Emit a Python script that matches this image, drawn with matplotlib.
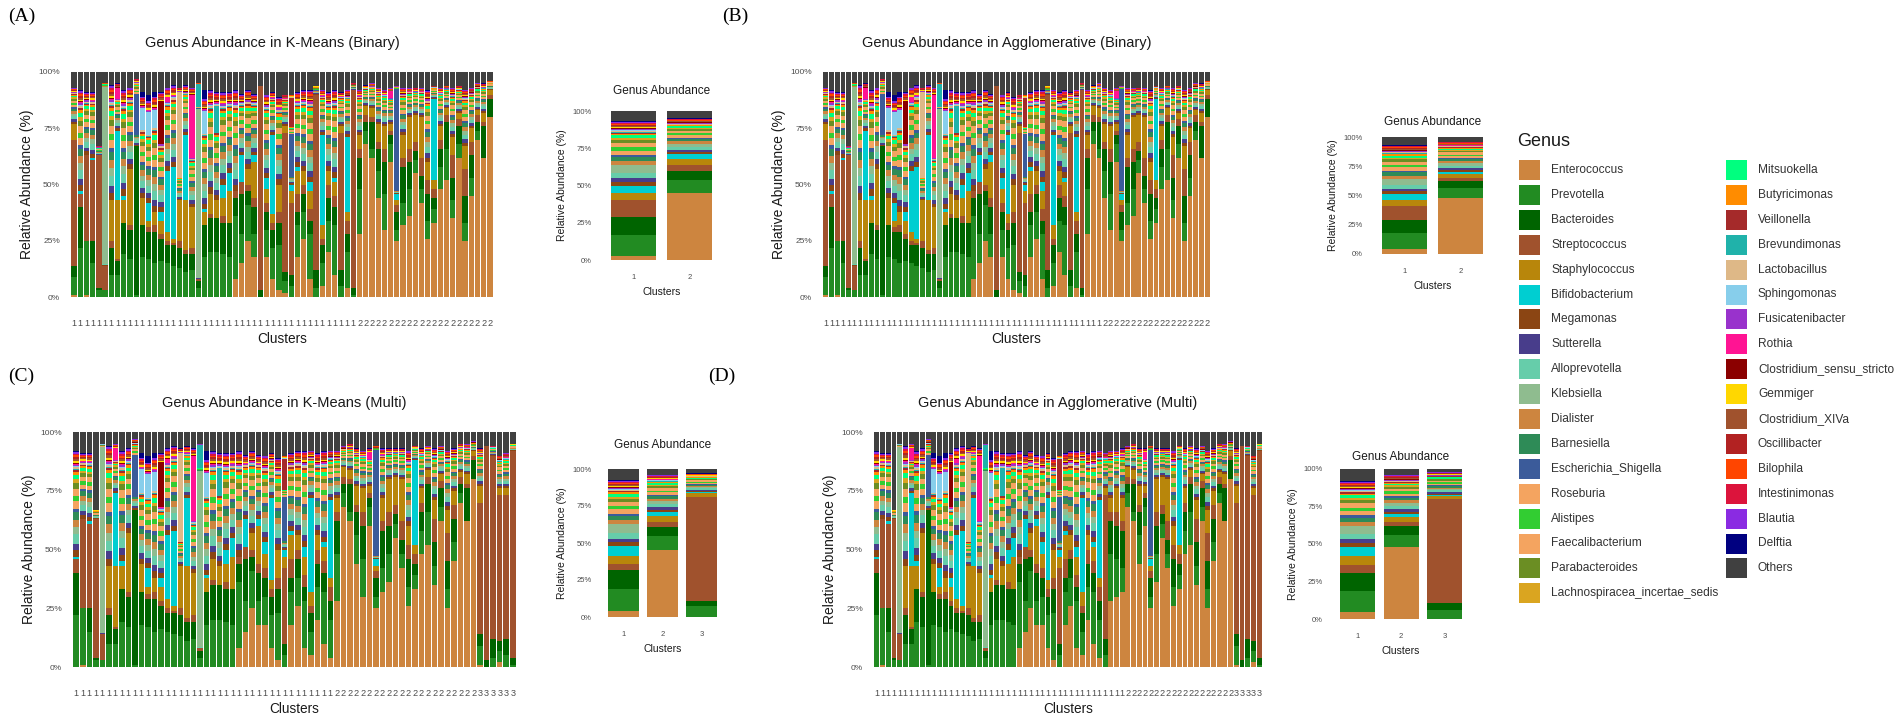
import matplotlib
matplotlib.use("Agg")
import matplotlib.pyplot as plt
from matplotlib.patches import Rectangle
import numpy as np

plt.rcParams['font.family'] = ['Liberation Sans', 'DejaVu Sans']

# genera in stacking / legend order (bottom -> top)
genera = ["Enterococcus", "Prevotella", "Bacteroides", "Streptococcus", "Staphylococcus",
          "Bifidobacterium", "Megamonas", "Sutterella", "Alloprevotella", "Klebsiella",
          "Dialister", "Barnesiella", "Escherichia_Shigella", "Roseburia", "Alistipes",
          "Faecalibacterium", "Parabacteroides", "Lachnospiracea_incertae_sedis",
          "Mitsuokella", "Butyricimonas", "Veillonella", "Brevundimonas", "Lactobacillus",
          "Sphingomonas", "Fusicatenibacter", "Rothia", "Clostridium_sensu_stricto",
          "Gemmiger", "Clostridium_XIVa", "Oscillibacter", "Bilophila", "Intestinimonas",
          "Blautia", "Delftia", "Others"]
genus_colors = ["#CD853F", "#228B22", "#006400", "#A0522D", "#B8860B",
                "#00CED1", "#8B4513", "#483D8B", "#66CDAA", "#8FBC8F",
                "#CD853F", "#2E8B57", "#3B5B9A", "#F4A460", "#32CD32",
                "#F4A460", "#6B8E23", "#DAA520",
                "#00FF7F", "#FF8C00", "#A52A2A", "#20B2AA", "#DEB887",
                "#87CEEB", "#9932CC", "#FF1493", "#8B0000",
                "#FFD700", "#A0522D", "#B22222", "#FF4500", "#DC143C",
                "#8A2BE2", "#000080", "#404040"]

# per-sample relative abundance (%) of the main genera, samples in K-Means (Binary) order
ent = [1, 0, 1, 0, 0, 0, 0, 0, 0, 0,
       0, 0, 0, 0, 0, 0, 0, 0, 0, 0,
       0, 0, 0, 0, 0, 0, 8, 15, 25, 18,
       0, 18, 8, 3, 2, 0, 18, 26, 8, 0,
       5, 20, 10, 0, 4, 0,
       28, 68, 62, 44, 30, 60, 25, 32, 36, 55,
       42, 26, 33, 48, 52, 35, 62, 25, 45, 70,
       62, 80]
prev = [8, 22, 24, 15, 3, 3, 10, 10, 19, 17,
        1, 18, 17, 15, 16, 15, 14, 13, 11, 12,
        4, 18, 20, 20, 19, 18, 28, 13, 16, 10,
        0, 12, 14, 20, 5, 5, 14, 12, 20, 4,
        10, 14, 22, 5, 16, 1,
        20, 6, 4, 12, 16, 8, 5, 10, 12, 6,
        6, 8, 6, 10, 14, 8, 6, 8, 8, 4,
        0, 0]
bact = [5, 18, 0, 10, 1, 0, 12, 6, 14, 13,
        66, 14, 12, 14, 10, 8, 9, 9, 8, 7,
        3, 14, 15, 15, 14, 15, 8, 18, 6, 12,
        3, 8, 8, 10, 4, 5, 6, 8, 6, 8,
        8, 10, 8, 7, 8, 3,
        14, 4, 12, 10, 14, 4, 8, 16, 12, 4,
        6, 12, 5, 8, 12, 10, 8, 12, 10, 4,
        14, 8]
strep = [56, 6, 38, 36, 59, 11, 3, 1, 0, 2,
         0, 0, 2, 3, 2, 2, 1, 3, 2, 3,
         1, 0, 2, 0, 3, 0, 3, 5, 3, 4,
         91, 4, 3, 5, 62, 32, 8, 4, 5, 78,
         3, 6, 5, 61, 6, 88,
         4, 3, 2, 3, 6, 2, 3, 4, 6, 4,
         8, 6, 4, 4, 3, 10, 3, 12, 6, 3,
         2, 2]
staph = [7, 0, 0, 0, 0, 0, 18, 26, 10, 25,
         0, 12, 3, 6, 6, 4, 2, 18, 22, 18,
         0, 6, 9, 8, 8, 14, 0, 0, 7, 16,
         0, 6, 4, 12, 3, 5, 10, 6, 8, 0,
         6, 6, 6, 3, 4, 0,
         6, 4, 4, 8, 10, 3, 2, 10, 14, 12,
         18, 8, 4, 6, 3, 8, 3, 10, 6, 2,
         4, 2]
bifido = [0, 1, 0, 1, 0, 0, 0, 31, 2, 0,
          0, 0, 8, 0, 4, 27, 32, 0, 29, 0,
          0, 1, 0, 0, 6, 8, 0, 12, 0, 3,
          0, 5, 35, 0, 0, 3, 2, 0, 4, 0,
          40, 0, 2, 0, 33, 0,
          0, 0, 0, 0, 0, 0, 3, 0, 0, 0,
          0, 0, 36, 0, 0, 0, 0, 0, 0, 0,
          0, 0]
others = [7, 8, 9, 9, 33, 5, 6, 5, 8, 7,
          3, 9, 10, 9, 9, 7, 6, 7, 6, 7,
          5, 8, 8, 9, 9, 9, 8, 10, 8, 10,
          6, 10, 9, 11, 10, 10, 9, 8, 8, 6,
          8, 9, 8, 9, 8, 5,
          8, 6, 5, 7, 8, 7, 6, 7, 7, 7,
          7, 8, 6, 7, 6, 7, 6, 8, 7, 5,
          5, 4]

# genera that dominate only a few samples (sample index -> %)
klebsiella = {5: 79, 20: 75}
escherichia = {10: 18, 35: 19, 52: 45}
lactobacillus = {17: 38}
sphingomonas = {11: 10, 12: 10, 13: 8, 21: 10}
rothia = {7: 5, 15: 2, 19: 28, 51: 3}
clostridium_ss = {14: 19}
delftia = {11: 2, 12: 3, 13: 2, 21: 4}
brevundimonas = {20: 10, 23: 12}
veillonella = {35: 13}

# typical share of the many small genera in the remaining part of a bar
minor_weights = {"Megamonas": 3.5, "Sutterella": 3.5, "Alloprevotella": 5, "Klebsiella": 4,
                 "Dialister": 4, "Barnesiella": 4, "Escherichia_Shigella": 2, "Roseburia": 4,
                 "Alistipes": 3, "Faecalibacterium": 4, "Parabacteroides": 3,
                 "Lachnospiracea_incertae_sedis": 2, "Mitsuokella": 2.5, "Butyricimonas": 1.5,
                 "Veillonella": 1, "Brevundimonas": 0.5, "Lactobacillus": 1, "Sphingomonas": 0.5,
                 "Fusicatenibacter": 1, "Rothia": 0.5, "Clostridium_sensu_stricto": 0.5,
                 "Gemmiger": 1, "Clostridium_XIVa": 1, "Oscillibacter": 1, "Bilophila": 1,
                 "Intestinimonas": 1, "Blautia": 1, "Delftia": 0.5}

# sample order and cluster of each panel
order_A = list(range(68))
clusters_A = [1] * 46 + [2] * 22
order_B = list(range(68))
clusters_B = [1] * 49 + [2] * 19
order_C = [1, 2, 3, 4, 5, 6, 7, 8, 9, 10, 11, 12, 13, 14, 15, 16, 17, 18, 19, 20,
           21, 22, 23, 24, 25, 26, 27, 28, 29, 31, 32, 33, 35, 36, 37, 38, 40, 41, 42, 44,
           46, 47, 48, 49, 50, 51, 52, 53, 54, 55, 56, 57, 58, 59, 60, 61, 62, 63, 64, 65,
           66, 67, 0, 30, 39, 34, 43, 45]
clusters_C = [1] * 40 + [2] * 22 + [3] * 6
order_D = [1, 2, 3, 4, 5, 6, 7, 8, 9, 10, 11, 12, 13, 14, 15, 16, 17, 18, 19, 20,
           21, 22, 23, 24, 25, 26, 27, 28, 29, 31, 32, 33, 35, 36, 37, 38, 40, 41, 42, 44,
           43, 46, 50, 53, 47, 48, 49, 51, 52, 54, 55, 56, 57, 58, 59, 60, 61, 62, 63, 64,
           65, 66, 67, 0, 30, 39, 34, 45]
clusters_D = [1] * 44 + [2] * 19 + [3] * 5

# cluster-level abundance (small panels), main genera only
small_A = {"Enterococcus": [3, 45], "Prevotella": [14, 9], "Bacteroides": [12, 6],
           "Streptococcus": [11, 4], "Staphylococcus": [5, 4], "Bifidobacterium": [5, 3],
           "Klebsiella": [5, 2], "Others": [7, 5]}
small_B = {"Enterococcus": [4, 48], "Prevotella": [14, 8], "Bacteroides": [11, 6],
           "Streptococcus": [12, 3], "Staphylococcus": [5, 3], "Bifidobacterium": [5, 2],
           "Klebsiella": [5, 2], "Others": [7, 4]}
small_C = {"Enterococcus": [4, 45, 0], "Prevotella": [15, 9.5, 7.5], "Bacteroides": [12.5, 6.5, 3.5],
           "Streptococcus": [4, 3, 70], "Staphylococcus": [6, 4, 3], "Bifidobacterium": [6.5, 3, 0.5],
           "Klebsiella": [6, 2, 0.5], "Others": [7.5, 4, 3]}
small_D = {"Enterococcus": [5, 48, 0], "Prevotella": [14, 8, 6], "Bacteroides": [12, 6, 5],
           "Streptococcus": [5, 3, 69], "Staphylococcus": [6, 3, 2], "Bifidobacterium": [6, 2, 0.5],
           "Klebsiella": [5, 2, 0.5], "Others": [8, 4, 2]}

W, H = 1902, 723
TICK_GREY = "#4D4D4D"


def fill_minor(comp):
    # spread what is left of the 100% over the small genera
    rest = max(100 - sum(comp.values()), 0)
    free = [g for g in minor_weights if g not in comp]
    tot = sum(minor_weights[g] for g in free)
    for g in free:
        comp[g] = rest * minor_weights[g] / tot
    return comp


def sample_comp(i):
    comp = {"Enterococcus": ent[i], "Prevotella": prev[i], "Bacteroides": bact[i],
            "Streptococcus": strep[i], "Staphylococcus": staph[i],
            "Bifidobacterium": bifido[i], "Others": others[i]}
    for g, d in [("Klebsiella", klebsiella), ("Escherichia_Shigella", escherichia),
                 ("Lactobacillus", lactobacillus), ("Sphingomonas", sphingomonas),
                 ("Rothia", rothia), ("Clostridium_sensu_stricto", clostridium_ss),
                 ("Delftia", delftia), ("Brevundimonas", brevundimonas),
                 ("Veillonella", veillonella)]:
        if i in d:
            comp[g] = d[i]
    return fill_minor(comp)


def px_axes(fig, x0, y0, x1, y1):
    return fig.add_axes([x0 / W, 1 - y1 / H, (x1 - x0) / W, (y1 - y0) / H])


def stacked(ax, comps, xpos, width):
    bottoms = np.zeros(len(comps))
    for g, col in zip(genera, genus_colors):
        vals = np.array([c.get(g, 0.0) for c in comps])
        ax.bar(xpos, vals, bottom=bottoms, width=width, color=col, linewidth=0)
        bottoms += vals


def style_axes(ax, ysize, xsize, ypad, xpad):
    ax.set_ylim(0, 100)
    ax.set_yticks([0, 25, 50, 75, 100])
    ax.set_yticklabels(["0%", "25%", "50%", "75%", "100%"])
    ax.tick_params(axis='y', length=0, pad=ypad, labelsize=ysize, labelcolor=TICK_GREY)
    ax.tick_params(axis='x', length=0, pad=xpad, labelsize=xsize, labelcolor=TICK_GREY)
    for s in ax.spines.values():
        s.set_visible(False)


fig = plt.figure(figsize=(W / 100, H / 100), dpi=100)
over = fig.add_axes([0, 0, 1, 1], zorder=5)
over.set_xlim(0, W)
over.set_ylim(H, 0)
over.axis('off')
over.patch.set_alpha(0)

main_panels = [
    ("(A)", "Genus Abundance in K-Means (Binary)", order_A, clusters_A, (71, 72, 493, 297), (8, 16)),
    ("(B)", "Genus Abundance in Agglomerative (Binary)", order_B, clusters_B, (823, 72, 1210, 297), (722, 16)),
    ("(C)", "Genus Abundance in K-Means (Multi)", order_C, clusters_C, (73, 432, 516, 667), (8, 376)),
    ("(D)", "Genus Abundance in Agglomerative (Multi)", order_D, clusters_D, (874, 432, 1262, 667), (708, 376)),
]
for tag, title, order, clus, (x0, y0, x1, y1), (tx, ty) in main_panels:
    ax = px_axes(fig, x0, y0, x1, y1)
    comps = [sample_comp(i) for i in order]
    stacked(ax, comps, np.arange(len(comps)), 0.85)
    ax.set_xlim(-0.5, len(comps) - 0.5)
    ax.set_xticks(np.arange(len(comps)))
    ax.set_xticklabels([str(c) for c in clus])
    style_axes(ax, 6, 6.6, 8, 16)
    over.text((x0 + x1) / 2 - 10, y0 - 29, title, ha='center', va='center', fontsize=10.5, color='#1A1A1A')
    over.text((x0 + x1) / 2, y1 + 42, "Clusters", ha='center', va='center', fontsize=9.8, color='#1A1A1A')
    over.text(x0 - 44, (y0 + y1) / 2, "Relative Abundance (%)", ha='center', va='center',
              rotation=90, fontsize=10, color='#1A1A1A')
    over.text(tx, ty, tag, ha='left', va='center', fontsize=14, family='Liberation Serif', color='black')

small_panels = [
    (small_A, (600, 111, 723, 260), 91),
    (small_B, (1371, 137, 1494, 254), 122),
    (small_C, (600, 469, 725, 617), 445),
    (small_D, (1331, 469, 1471, 619), 457),
]
for data, (x0, y0, x1, y1), title_y in small_panels:
    ax = px_axes(fig, x0, y0, x1, y1)
    k = len(data["Enterococcus"])
    comps = [fill_minor({g: v[j] for g, v in data.items()}) for j in range(k)]
    xs = np.arange(1, k + 1)
    stacked(ax, comps, xs, 0.8)
    ax.set_xlim(0.4, k + 0.6)
    ax.set_xticks(xs)
    ax.set_xticklabels([str(x) for x in xs])
    style_axes(ax, 5.5, 5.5, 6, 10)
    over.text((x0 + x1) / 2, title_y, "Genus Abundance", ha='center', va='center', fontsize=8.5, color='#1A1A1A')
    over.text((x0 + x1) / 2, y1 + 32, "Clusters", ha='center', va='center', fontsize=7.5, color='#1A1A1A')
    over.text(x0 - 38, (y0 + y1) / 2, "Relative Abundance (%)", ha='center', va='center',
              rotation=90, fontsize=7.5, color='#1A1A1A')

# legend
over.text(1517, 142, "Genus", ha='left', va='center', fontsize=13, color='#1A1A1A')
for n, (g, col) in enumerate(zip(genera, genus_colors)):
    col_i, row = (0, n) if n < 18 else (1, n - 18)
    kx = 1519 if col_i == 0 else 1726
    ky = 160 + 24.9 * row
    over.add_patch(Rectangle((kx, ky), 21, 20, facecolor=col, edgecolor='none'))
    over.text(kx + 32, ky + 10, g, ha='left', va='center', fontsize=8.6, color='#333333')

fig.savefig("out.png", dpi=100)
